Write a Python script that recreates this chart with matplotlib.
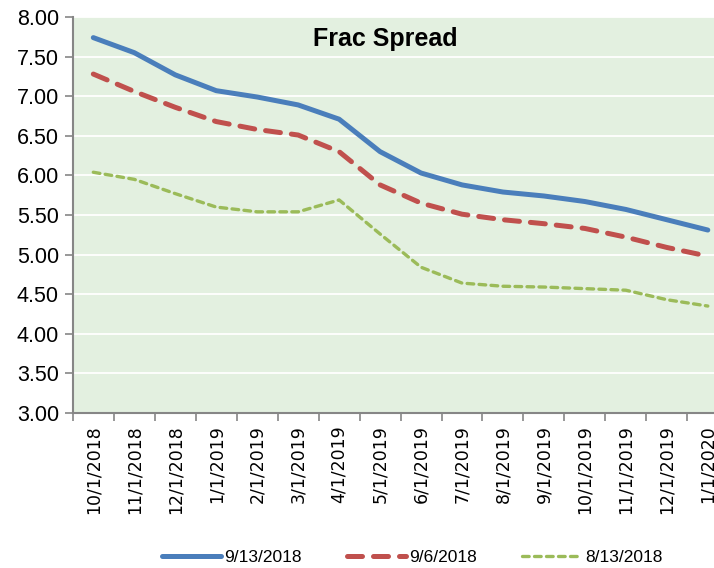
import numpy as np
import matplotlib.pyplot as plt

# Frac spread forward curves for three snapshot dates
months = ['10/1/2018', '11/1/2018', '12/1/2018', '1/1/2019', '2/1/2019', '3/1/2019',
          '4/1/2019', '5/1/2019', '6/1/2019', '7/1/2019', '8/1/2019', '9/1/2019',
          '10/1/2019', '11/1/2019', '12/1/2019', '1/1/2020']
sep13 = [7.74, 7.55, 7.27, 7.07, 6.99, 6.89, 6.71, 6.30, 6.03, 5.88, 5.79, 5.74, 5.67, 5.57, 5.44, 5.31]
sep06 = [7.28, 7.06, 6.86, 6.68, 6.58, 6.51, 6.30, 5.88, 5.65, 5.51, 5.44, 5.39, 5.33, 5.22, 5.09, 4.98]
aug13 = [6.04, 5.95, 5.77, 5.60, 5.54, 5.54, 5.69, 5.26, 4.84, 4.64, 4.60, 4.59, 4.57, 4.55, 4.43, 4.35]
series_names = ['9/13/2018', '9/6/2018', '8/13/2018']

narrow = ['Liberation Sans Narrow', 'Liberation Sans']

fig = plt.figure(figsize=(7.14, 5.68), dpi=100)
ax = fig.add_axes([0.102, 0.273, 0.918, 0.697])
ax.set_facecolor('#E3F0E0')

x = np.arange(len(months))
ax.plot(x, sep13, color='#4A7EBB', lw=3.6, solid_capstyle='round', label=series_names[0])
ax.plot(x, sep06, color='#C0504D', lw=3.6, dashes=(3.0, 2.2), dash_capstyle='round', label=series_names[1])
ax.plot(x, aug13, color='#9BBB59', lw=2.4, dashes=(2.0, 1.6), dash_capstyle='round', label=series_names[2])

ax.set_ylim(3, 8)
ax.set_yticks(np.arange(3, 8.01, 0.5))
ax.set_yticklabels(['%.2f' % v for v in np.arange(3, 8.01, 0.5)], fontsize=15.5, family=narrow)
ax.yaxis.grid(True, color='white', lw=1.3)
ax.set_axisbelow(True)

ax.set_xlim(-0.5, len(months) - 0.5)
ax.set_xticks(x)
ax.set_xticklabels(months, rotation=90, fontsize=12.5)
ax.set_xticks(np.arange(-0.5, len(months), 1), minor=True)
ax.tick_params(axis='x', which='major', length=0, pad=9)
ax.tick_params(axis='x', which='minor', length=6, color='#868686', width=1.2)
ax.tick_params(axis='y', length=6, color='#868686', width=1.2, pad=4)

for s in ['top', 'right']:
    ax.spines[s].set_visible(False)
for s in ['left', 'bottom']:
    ax.spines[s].set_color('#868686')
    ax.spines[s].set_linewidth(1.5)

fig.text(0.539, 0.931, 'Frac Spread', ha='center', va='center',
         fontsize=18, fontweight='bold', family=narrow)

fig.legend(loc='center', bbox_to_anchor=(0.577, 0.018), ncol=3, frameon=False,
           handlelength=3.4, columnspacing=2.6, handletextpad=0.2,
           prop={'size': 12.5, 'family': narrow})

fig.savefig('out.png', dpi=100)
